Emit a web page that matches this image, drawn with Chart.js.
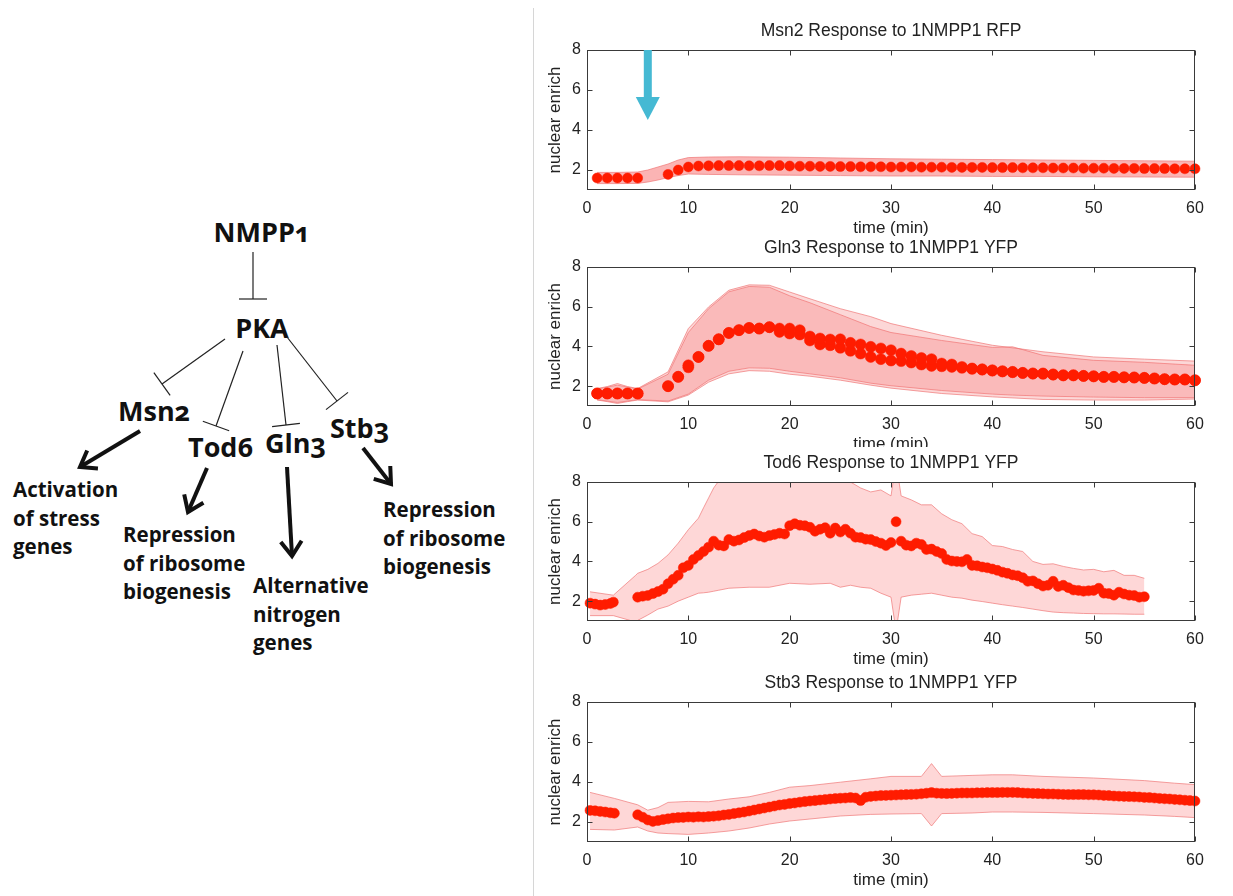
<!DOCTYPE html>
<html>
<head>
<meta charset="utf-8">
<title>PKA targets after 1NMPP1</title>
<script src="https://cdn.jsdelivr.net/npm/chart.js@4.4.1/dist/chart.umd.min.js"></script>
<style>
    html, body { margin: 0; padding: 0; background: #fff; }
    body { width: 1233px; height: 896px; position: relative; overflow: hidden; }
    #pathway { position: absolute; left: 0; top: 0; }
    #pathway text { font-family: "Open Sans", sans-serif; font-weight: 700; fill: #111; font-variant-numeric: oldstyle-nums; }
    .divider { position: absolute; left: 533px; top: 8px; width: 1px; height: 888px; background: #d6d6d6; }
    .panel { position: absolute; left: 540px; width: 680px; overflow: hidden; }
    .panel canvas { display: block; }
</style>
</head>
<body>
<svg id="pathway" width="533" height="896" xmlns="http://www.w3.org/2000/svg"></svg>
<div class="divider"></div>
<div class="panel" style="top:10px;height:230px"><canvas id="msn2Chart" width="680" height="230"></canvas></div>
<div class="panel" style="top:227px;height:220px"><canvas id="gln3Chart" width="680" height="229"></canvas></div>
<div class="panel" style="top:442px;height:229px"><canvas id="tod6Chart" width="680" height="229"></canvas></div>
<div class="panel" style="top:662px;height:230px"><canvas id="stb3Chart" width="680" height="230"></canvas></div>

<script>
// --- axis ticks shared by the four panels ---
const timeTicks = [0, 10, 20, 30, 40, 50, 60];
const enrichTicks = [2, 4, 6, 8];
const drugAddedAt = 6; // min, 1NMPP1 addition

// --- Msn2 (RFP) ---
const msn2Time = [1, 2, 3, 4, 5, 8, 9, 10, 11, 12, 13, 14, 15, 16, 17, 18, 19, 20, 21, 22, 23, 24, 25, 26, 27, 28, 29, 30,
    31, 32, 33, 34, 35, 36, 37, 38, 39, 40, 41, 42, 43, 44, 45, 46, 47, 48, 49, 50, 51, 52, 53, 54, 55, 56, 57, 58, 59, 60];
const msn2Values = [1.6, 1.6, 1.6, 1.6, 1.6, 1.78, 2.0, 2.15, 2.2, 2.21, 2.22, 2.22, 2.22, 2.21, 2.21, 2.22, 2.22, 2.2, 2.19, 2.19, 2.18, 2.18, 2.17, 2.17, 2.16, 2.16, 2.16, 2.15,
    2.15, 2.15, 2.14, 2.14, 2.14, 2.13, 2.13, 2.13, 2.13, 2.12, 2.12, 2.12, 2.11, 2.11, 2.11, 2.1, 2.1, 2.1, 2.09, 2.09, 2.09, 2.08, 2.08, 2.08, 2.07, 2.07, 2.07, 2.06, 2.06, 2.06];
const msn2BandTime = [1, 3, 5, 6, 7, 8, 9, 10, 12, 15, 20, 25, 30, 35, 40, 45, 50, 55, 60];
const msn2Upper = [1.88, 1.88, 1.9, 2.0, 2.15, 2.3, 2.5, 2.62, 2.65, 2.66, 2.64, 2.6, 2.56, 2.54, 2.52, 2.5, 2.48, 2.46, 2.44];
const msn2Lower = [1.32, 1.32, 1.33, 1.4, 1.5, 1.62, 1.72, 1.8, 1.78, 1.76, 1.74, 1.72, 1.7, 1.7, 1.68, 1.68, 1.66, 1.65, 1.64];

// --- Gln3 (YFP), two replicates ---
const gln3Time = [1, 2, 3, 4, 5, 8, 9, 10, 11, 12, 13, 14, 15, 16, 17, 18, 19, 20, 21, 22, 23, 24, 25, 26, 27, 28, 29, 30,
    31, 32, 33, 34, 35, 36, 37, 38, 39, 40, 41, 42, 43, 44, 45, 46, 47, 48, 49, 50, 51, 52, 53, 54, 55, 56, 57, 58, 59, 60];
const gln3RepA = [1.63, 1.63, 1.63, 1.63, 1.63, 2.0, 2.47, 3.05, 3.47, 4.03, 4.36, 4.68, 4.82, 4.93, 4.9, 4.97, 4.9, 4.9, 4.82, 4.5, 4.4, 4.35, 4.36, 4.18, 4.1, 3.98, 3.9, 3.81,
    3.64, 3.52, 3.42, 3.36, 3.14, 3.09, 2.97, 2.89, 2.85, 2.8, 2.75, 2.72, 2.67, 2.64, 2.64, 2.59, 2.55, 2.55, 2.52, 2.5, 2.47, 2.47, 2.45, 2.44, 2.42, 2.39, 2.35, 2.34, 2.34, 2.3];
const gln3RepB = [1.63, 1.63, 1.63, 1.63, 1.63, 2.0, 2.47, 2.95, 3.47, 4.03, 4.36, 4.68, 4.82, 4.93, 4.9, 4.97, 4.73, 4.65, 4.6, 4.3, 4.1, 4.06, 3.93, 3.78, 3.64, 3.47, 3.36, 3.29,
    3.26, 3.19, 3.09, 3.02, 3.0, 2.97, 2.92, 2.87, 2.83, 2.78, 2.74, 2.7, 2.66, 2.63, 2.62, 2.58, 2.54, 2.54, 2.51, 2.49, 2.46, 2.46, 2.44, 2.43, 2.41, 2.38, 2.35, 2.33, 2.33, 2.29];
const gln3BandTimeA = [1, 2, 3, 4, 5, 8, 10, 12, 14, 16, 18, 20, 22, 25, 28, 30, 35, 40, 45, 50, 55, 60];
const gln3UpperA = [1.88, 1.98, 2.13, 1.98, 1.88, 2.72, 4.9, 5.99, 6.83, 7.1, 7.08, 6.74, 6.4, 5.9, 5.5, 5.15, 4.56, 4.06, 3.73, 3.47, 3.36, 3.26];
const gln3LowerA = [1.3, 1.22, 1.13, 1.22, 1.3, 1.21, 1.55, 2.2, 2.62, 2.78, 2.75, 2.6, 2.5, 2.3, 2.05, 1.9, 1.63, 1.46, 1.33, 1.3, 1.3, 1.35];
const gln3BandTimeB = [1, 3, 5, 8, 10, 12, 14, 16, 18, 20, 22, 25, 28, 30, 35, 40, 42, 45, 50, 55, 60];
const gln3UpperB = [1.85, 2.05, 1.85, 2.6, 4.7, 5.9, 6.75, 7.02, 6.98, 6.55, 6.2, 5.6, 5.0, 4.7, 4.3, 3.95, 3.98, 3.55, 3.3, 3.2, 3.05];
const gln3LowerB = [1.32, 1.18, 1.32, 1.25, 1.6, 2.3, 2.75, 2.92, 2.9, 2.75, 2.62, 2.42, 2.15, 2.02, 1.78, 1.6, 1.55, 1.5, 1.45, 1.42, 1.42];

// --- Tod6 (YFP) ---
const tod6Time = [0.3, 0.8, 1.3, 1.8, 2.3, 2.6,
    5, 5.5, 6, 6.5, 7, 7.5, 8, 8.5, 9, 9.5, 10, 10.5, 11, 11.5, 12, 12.5, 13, 13.5, 14, 14.5, 15, 15.5, 16, 16.5, 17, 17.5, 18, 18.5, 19, 19.5,
    20, 20.5, 21, 21.5, 22, 22.5, 23, 23.5, 24, 24.5, 25, 25.5, 26, 26.5, 27, 27.5, 28, 28.5, 29, 29.5, 30, 30.5, 31, 31.5, 32, 32.5, 33, 33.5, 34, 34.5,
    35, 35.5, 36, 36.5, 37, 37.5, 38, 38.5, 39, 39.5, 40, 40.5, 41, 41.5, 42, 42.5, 43, 43.5, 44, 44.5, 45, 45.5, 46, 46.5, 47, 47.5, 48, 48.5, 49, 49.5,
    50, 50.5, 51, 51.5, 52, 52.5, 53, 53.5, 54, 54.5, 55];
const tod6Values = [1.9, 1.85, 1.8, 1.83, 1.88, 1.95,
    2.2, 2.25, 2.28, 2.38, 2.48, 2.6, 2.88, 3.1, 3.3, 3.68, 3.8, 4.1, 4.3, 4.5, 4.72, 5.02, 4.82, 4.78, 5.1, 5.02, 5.08, 5.2, 5.3, 5.38, 5.28, 5.22, 5.3, 5.36, 5.42, 5.38,
    5.8, 5.9, 5.82, 5.8, 5.72, 5.52, 5.62, 5.7, 5.42, 5.68, 5.48, 5.62, 5.42, 5.22, 5.2, 5.12, 5.1, 5.0, 4.92, 4.8, 4.95, 6.0, 5.02, 4.82, 4.78, 4.92, 4.85, 4.6, 4.62, 4.5,
    4.4, 4.1, 4.02, 4.0, 3.98, 4.1, 3.8, 3.78, 3.72, 3.68, 3.62, 3.55, 3.46, 3.4, 3.32, 3.28, 3.18, 3.0, 3.02, 2.88, 2.76, 2.8, 3.0, 2.74, 2.8, 2.68, 2.56, 2.54, 2.5, 2.52,
    2.54, 2.65, 2.4, 2.38, 2.3, 2.45, 2.36, 2.3, 2.28, 2.2, 2.22];
const tod6BandTime = [0.3, 2.6, 4.8, 5, 6, 7, 8, 9, 10, 11, 11.5, 12, 12.5, 13, 14, 16, 18, 20, 22, 24, 25, 26, 27, 28, 29, 30, 30.5, 31,
    32, 33, 34, 35, 36, 37, 38, 39, 40, 41, 42, 43, 44, 45, 46, 47, 48, 49, 50, 51, 52, 53, 54, 55];
const tod6Upper = [2.47, 2.3, 3.3, 3.4, 3.6, 3.9, 4.33, 4.92, 5.6, 6.18, 6.7, 7.2, 7.7, 8.05, 8.4, 8.6, 8.7, 8.6, 8.5, 8.3, 8.2, 8.0, 7.7, 7.5, 7.6, 7.3, 9.0, 7.3,
    7.1, 6.85, 6.85, 6.4, 6.1, 5.9, 5.4, 5.25, 4.8, 4.75, 4.6, 4.5, 4.0, 3.85, 3.88, 3.75, 3.65, 3.57, 3.6, 3.48, 3.55, 3.3, 3.3, 3.15];
const tod6Lower = [1.27, 1.27, 0.95, 1.03, 1.3, 1.6, 1.75, 2.0, 2.2, 2.4, 2.42, 2.45, 2.5, 2.55, 2.65, 2.7, 2.7, 2.9, 2.85, 2.9, 2.7, 2.8, 2.7, 2.65, 2.4, 2.2, 0.5, 2.2,
    2.3, 2.35, 2.4, 2.3, 2.2, 2.15, 2.05, 1.98, 1.9, 1.82, 1.75, 1.68, 1.6, 1.52, 1.45, 1.42, 1.4, 1.38, 1.37, 1.36, 1.36, 1.35, 1.34, 1.34];

// --- Stb3 (YFP) ---
const stb3Time = [0.3, 0.8, 1.3, 1.8, 2.3, 2.7,
    5, 5.5, 6, 6.5, 7, 7.5, 8, 8.5, 9, 9.5, 10, 10.5, 11, 11.5, 12, 12.5, 13, 13.5, 14, 14.5, 15, 15.5, 16, 16.5, 17, 17.5, 18, 18.5, 19, 19.5,
    20, 20.5, 21, 21.5, 22, 22.5, 23, 23.5, 24, 24.5, 25, 25.5, 26, 26.5, 27, 27.5, 28, 28.5, 29, 29.5, 30, 30.5, 31, 31.5, 32, 32.5, 33, 33.5, 34, 34.5,
    35, 35.5, 36, 36.5, 37, 37.5, 38, 38.5, 39, 39.5, 40, 40.5, 41, 41.5, 42, 42.5, 43, 43.5, 44, 44.5, 45, 45.5, 46, 46.5, 47, 47.5, 48, 48.5, 49, 49.5,
    50, 50.5, 51, 51.5, 52, 52.5, 53, 53.5, 54, 54.5, 55, 55.5, 56, 56.5, 57, 57.5, 58, 58.5, 59, 59.5, 60];
const stb3Values = [2.58, 2.56, 2.53, 2.5, 2.46, 2.44,
    2.36, 2.24, 2.1, 2.03, 2.07, 2.12, 2.16, 2.2, 2.22, 2.23, 2.25, 2.24, 2.26, 2.25, 2.27, 2.29, 2.31, 2.35, 2.38, 2.42, 2.46, 2.5, 2.55, 2.6, 2.65, 2.7, 2.75, 2.8, 2.85, 2.88,
    2.92, 2.95, 2.99, 3.02, 3.05, 3.07, 3.1, 3.12, 3.15, 3.17, 3.19, 3.2, 3.22, 3.2, 3.07, 3.24, 3.28, 3.3, 3.32, 3.33, 3.34, 3.35, 3.36, 3.37, 3.38, 3.39, 3.41, 3.44, 3.47, 3.44,
    3.43, 3.42, 3.43, 3.44, 3.45, 3.45, 3.45, 3.46, 3.46, 3.47, 3.47, 3.47, 3.48, 3.48, 3.48, 3.47, 3.45, 3.44, 3.43, 3.42, 3.41, 3.4, 3.4, 3.39, 3.38, 3.37, 3.37, 3.37, 3.37, 3.36,
    3.36, 3.35, 3.33, 3.32, 3.3, 3.29, 3.28, 3.27, 3.26, 3.25, 3.23, 3.22, 3.2, 3.18, 3.16, 3.15, 3.13, 3.11, 3.09, 3.07, 3.05];
const stb3BandTime = [0.3, 2.7, 5, 6, 7, 8, 10, 12, 14, 16, 18, 20, 22, 25, 28, 30, 33, 34, 35, 38, 40, 42, 45, 50, 55, 58, 60];
const stb3Upper = [3.48, 3.18, 2.86, 2.59, 2.72, 2.98, 3.03, 3.01, 3.15, 3.26, 3.48, 3.74, 3.82, 3.99, 4.16, 4.28, 4.28, 4.92, 4.28, 4.33, 4.36, 4.36, 4.28, 4.2, 4.07, 3.94, 3.87];
const stb3Lower = [1.63, 1.6, 1.75, 1.55, 1.45, 1.42, 1.38, 1.45, 1.55, 1.7, 1.9, 2.05, 2.15, 2.3, 2.38, 2.4, 2.42, 1.8, 2.42, 2.45, 2.5, 2.5, 2.48, 2.42, 2.35, 2.28, 2.22];

// ---------------------------------------------------------------------------
const axisFont = "'Liberation Sans', Arial, sans-serif";
const dotColor = "rgb(255, 28, 0)";
const bandEdge = "rgba(240, 120, 120, 0.7)";

function xy(xs, ys) {
    return xs.map((x, i) => ({ x: x, y: ys[i] }));
}

function dots(xs, ys, r) {
    return {
        data: xy(xs, ys),
        pointRadius: r || 5,
        pointBackgroundColor: dotColor,
        pointBorderColor: dotColor,
        pointBorderWidth: 0.5,
        showLine: false,
        clip: false,
    };
}

// lower edge first, upper edge fills down to it
function band(xs, lo, hi, fillColor) {
    const edge = { type: "line", pointRadius: 0, borderWidth: 1, borderColor: bandEdge, tension: 0 };
    return [
        Object.assign({ data: xy(xs, lo), fill: false }, edge),
        Object.assign({ data: xy(xs, hi), fill: "-1", backgroundColor: fillColor }, edge),
    ];
}

// box round the plot with inward tick marks on all four sides
const boxAxes = {
    id: "boxAxes",
    afterDatasetsDraw(chart) {
        const { ctx, chartArea: a, scales } = chart;
        const l = Math.round(a.left) + 0.5, r = Math.round(a.right) - 0.5;
        const t = Math.round(a.top) + 0.5, b = Math.round(a.bottom) - 0.5;
        ctx.save();
        ctx.strokeStyle = "#3a3a3a";
        ctx.lineWidth = 1;
        ctx.strokeRect(l, t, r - l, b - t);
        ctx.beginPath();
        timeTicks.forEach((v) => {
            const px = Math.round(scales.x.getPixelForValue(v)) + 0.5;
            ctx.moveTo(px, b); ctx.lineTo(px, b - 5);
            ctx.moveTo(px, t); ctx.lineTo(px, t + 5);
        });
        enrichTicks.forEach((v) => {
            const py = Math.round(scales.y.getPixelForValue(v)) + 0.5;
            ctx.moveTo(l, py); ctx.lineTo(l + 5, py);
            ctx.moveTo(r, py); ctx.lineTo(r - 5, py);
        });
        ctx.stroke();
        ctx.restore();
    },
};

// blue arrow marking when the inhibitor went in
const dropArrow = {
    id: "dropArrow",
    afterDatasetsDraw(chart, args, opts) {
        if (!opts.at) return;
        const { ctx, scales } = chart;
        const cx = scales.x.getPixelForValue(opts.at);
        const top = scales.y.getPixelForValue(8);
        const neck = scales.y.getPixelForValue(opts.neck);
        const tip = scales.y.getPixelForValue(opts.tip);
        ctx.save();
        ctx.fillStyle = "#45b9d3";
        ctx.fillRect(cx - 4, top, 8, neck - top);
        ctx.beginPath();
        ctx.moveTo(cx - 12, neck);
        ctx.lineTo(cx + 12, neck);
        ctx.lineTo(cx, tip);
        ctx.closePath();
        ctx.fill();
        ctx.restore();
    },
};

function makePanel(id, title, datasets, arrow) {
    return new Chart(document.getElementById(id), {
        type: "scatter",
        data: { datasets: datasets },
        options: {
            responsive: false,
            animation: false,
            events: [],
            layout: { padding: { top: 0, right: 25, bottom: 0, left: 0 } },
            plugins: {
                legend: { display: false },
                tooltip: { enabled: false },
                title: {
                    display: true,
                    fullSize: false,
                    text: title,
                    color: "#222",
                    font: { family: axisFont, size: 17.5, weight: "normal" },
                    padding: { top: 10.5, bottom: 8.5 },
                },
                dropArrow: arrow || {},
            },
            scales: {
                x: {
                    type: "linear",
                    min: 0,
                    max: 60,
                    afterBuildTicks: (s) => { s.ticks = timeTicks.map((v) => ({ value: v })); },
                    afterFit: (s) => { s.height = 50; },
                    grid: { display: false, drawTicks: false },
                    border: { display: false },
                    ticks: { color: "#222", padding: 9, maxRotation: 0, font: { family: axisFont, size: 16 } },
                    title: { display: true, text: "time (min)", color: "#222", padding: { top: 0, bottom: 1 }, font: { family: axisFont, size: 17 } },
                },
                y: {
                    type: "linear",
                    min: 1,
                    max: 8,
                    afterBuildTicks: (s) => { s.ticks = enrichTicks.map((v) => ({ value: v })); },
                    afterFit: (s) => { s.width = 47; },
                    grid: { display: false, drawTicks: false },
                    border: { display: false },
                    ticks: { color: "#222", padding: 6, font: { family: axisFont, size: 16 } },
                    title: { display: true, text: "nuclear enrich", color: "#222", padding: { top: 5, bottom: 0 }, font: { family: axisFont, size: 17 } },
                },
            },
        },
        plugins: [boxAxes, dropArrow],
    });
}

makePanel("msn2Chart", "Msn2 Response to 1NMPP1 RFP",
    [dots(msn2Time, msn2Values)].concat(band(msn2BandTime, msn2Lower, msn2Upper, "rgba(248, 105, 105, 0.5)")),
    { at: drugAddedAt, neck: 5.65, tip: 4.5 });

makePanel("gln3Chart", "Gln3 Response to 1NMPP1 YFP",
    [dots(gln3Time, gln3RepA, 5.5), dots(gln3Time, gln3RepB, 5.5)]
        .concat(band(gln3BandTimeA, gln3LowerA, gln3UpperA, "rgba(245, 110, 110, 0.28)"))
        .concat(band(gln3BandTimeB, gln3LowerB, gln3UpperB, "rgba(245, 110, 110, 0.28)")));

makePanel("tod6Chart", "Tod6 Response to 1NMPP1 YFP",
    [dots(tod6Time, tod6Values)].concat(band(tod6BandTime, tod6Lower, tod6Upper, "rgba(250, 110, 110, 0.28)")));

makePanel("stb3Chart", "Stb3 Response to 1NMPP1 YFP",
    [dots(stb3Time, stb3Values)].concat(band(stb3BandTime, stb3Lower, stb3Upper, "rgba(250, 110, 110, 0.28)")));

// --- pathway sketch on the left ---
const svg = document.getElementById("pathway");
const NS = "http://www.w3.org/2000/svg";

function el(tag, attrs, text) {
    const node = document.createElementNS(NS, tag);
    for (const k in attrs) node.setAttribute(k, attrs[k]);
    if (text) node.textContent = text;
    svg.appendChild(node);
    return node;
}

const nodeLabels = [
    ["NMPP1", 262, 242, "middle"],
    ["PKA", 262, 338, "middle"],
    ["Msn2", 118, 421, "start"],
    ["Tod6", 188, 457, "start"],
    ["Gln3", 265, 453, "start"],
    ["Stb3", 330, 438, "start"],
];
nodeLabels.forEach(([t, x, y, anchor]) => {
    el("text", { x: x, y: y, "text-anchor": anchor, "font-size": 27 }, t);
});

const outcomes = [
    [["Activation", "of stress", "genes"], 13, 497],
    [["Repression", "of ribosome", "biogenesis"], 123, 542],
    [["Alternative", "nitrogen", "genes"], 253, 593],
    [["Repression", "of ribosome", "biogenesis"], 383, 517],
];
outcomes.forEach(([lines, x, y]) => {
    const txt = el("text", { x: x, y: y, "font-size": 20.5 });
    lines.forEach((line, i) => {
        const span = document.createElementNS(NS, "tspan");
        span.setAttribute("x", x);
        if (i > 0) span.setAttribute("dy", 28.5);
        span.textContent = line;
        txt.appendChild(span);
    });
});

// inhibition: thin line ending in a T bar
const inhibits = [
    [253, 252, 253, 299],
    [225, 339, 162, 384],
    [243, 351, 216, 426],
    [277, 345, 286, 425],
    [287, 337, 337, 401],
];
inhibits.forEach(([x1, y1, x2, y2]) => {
    el("line", { x1: x1, y1: y1, x2: x2, y2: y2, stroke: "#222", "stroke-width": 1.2 });
    const len = Math.hypot(x2 - x1, y2 - y1);
    const px = -(y2 - y1) / len * 14, py = (x2 - x1) / len * 14;
    el("line", { x1: x2 - px, y1: y2 - py, x2: x2 + px, y2: y2 + py, stroke: "#222", "stroke-width": 1.2 });
});

// activation: thick arrow with an open head
const activates = [
    [140, 431, 80, 467],
    [207, 468, 188, 512],
    [287, 467, 292, 556],
    [363, 448, 391, 484],
];
activates.forEach(([x1, y1, x2, y2]) => {
    el("line", { x1: x1, y1: y1, x2: x2, y2: y2, stroke: "#111", "stroke-width": 4 });
    const ang = Math.atan2(y2 - y1, x2 - x1);
    const arm = 18, spread = 0.62;
    const ax = x2 - arm * Math.cos(ang - spread), ay = y2 - arm * Math.sin(ang - spread);
    const bx = x2 - arm * Math.cos(ang + spread), by = y2 - arm * Math.sin(ang + spread);
    el("polyline", { points: `${ax},${ay} ${x2},${y2} ${bx},${by}`, fill: "none", stroke: "#111", "stroke-width": 4, "stroke-linejoin": "miter" });
});
</script>
</body>
</html>
